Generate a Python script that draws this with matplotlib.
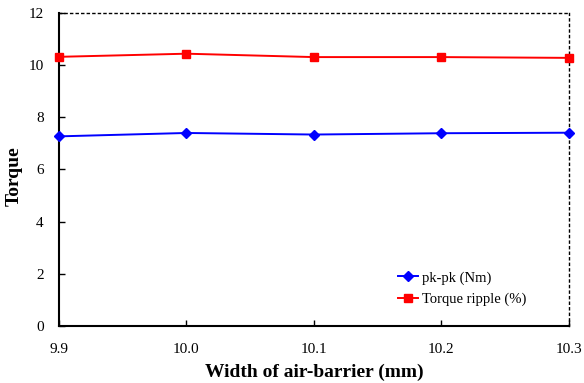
import numpy as np
import matplotlib.pyplot as plt

plt.rcParams['font.family'] = ['Liberation Serif', 'DejaVu Serif']

width = [9.9, 10.0, 10.1, 10.2, 10.3]
pk_pk = [7.27, 7.40, 7.34, 7.39, 7.41]
ripple = [10.32, 10.44, 10.31, 10.31, 10.28]

fig = plt.figure(figsize=(5.84, 3.83), dpi=100)
ax = fig.add_axes([0.101, 0.149, 0.873, 0.817])

ax.plot(width, pk_pk, color='#0000ff', marker='D', markersize=5, lw=1.4,
        label='pk-pk (Nm)', clip_on=False, zorder=3)
ax.plot(width, ripple, color='#ff0000', marker='s', markersize=5.5, lw=1.4,
        label='Torque ripple (%)', clip_on=False, zorder=3)

ax.set_xlim(9.9, 10.3)
ax.set_ylim(0, 12)
ax.set_xticks(width)
ax.set_xticklabels([f'{w:.1f}' for w in width])
ax.set_yticks(np.arange(0, 13, 2))
ax.tick_params(direction='in', length=4, width=1, labelsize=11)
ax.tick_params(axis='y', pad=11)
ax.tick_params(axis='x', pad=12)

for s in ['left', 'bottom']:
    ax.spines[s].set_linewidth(1.5)
for s in ['top', 'right']:
    ax.spines[s].set_linestyle((0, (1.5, 2.5)))
    ax.spines[s].set_linewidth(1.0)

ax.set_xlabel('Width of air-barrier (mm)', fontsize=14, fontweight='bold', labelpad=6)
ax.set_ylabel('Torque', fontsize=14, fontweight='bold', va='center')
ax.yaxis.set_label_coords(-0.088, 0.48)

ax.legend(loc='upper left', bbox_to_anchor=(0.64, 0.217), frameon=False,
          fontsize=10.5, handlelength=1.35, handletextpad=0.3, labelspacing=0.55)

fig.savefig('out.png', dpi=100)
